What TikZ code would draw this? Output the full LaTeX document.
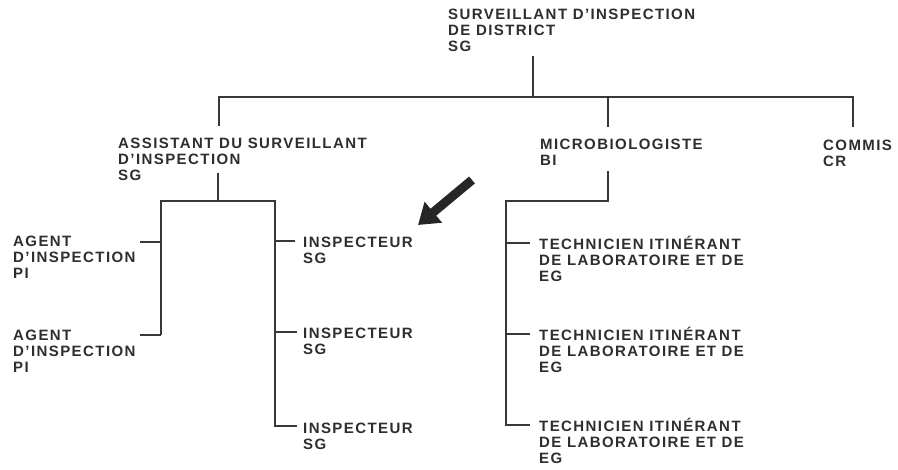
\documentclass[tikz,border=0pt]{standalone}
\usepackage{fontspec}
\setmainfont{Liberation Sans}[LetterSpace=9.5]
\usepackage{tikz}
\usetikzlibrary{calc,arrows.meta}

\tikzset{
	poste/.style={anchor=base west, inner sep=0pt, align=left, text=black!82,
		font=\fontsize{15}{16}\selectfont\bfseries},
	trait/.style={line width=1.8pt, draw=black!78},
	fleche/.style={line width=9pt, draw=black!85, -{Triangle[width=26pt,length=20pt]}}
}

\begin{document}
\begin{tikzpicture}[x=1pt,y=-1pt]
		\useasboundingbox[fill=white] (0,0) rectangle (898,470);
		% postes (placés sur la ligne de base de la dernière ligne)
		\node (titre) at (448,52)[poste]{SURVEILLANT D'INSPECTION\\DE DISTRICT\\SG};
		\node (adjoint) at (118,180.5)[poste]{ASSISTANT DU SURVEILLANT\\D'INSPECTION\\SG};
		\node (micro) at (540,165.5)[poste]{MICROBIOLOGISTE\\BI};
		\node (commis) at (823,166.5)[poste]{COMMIS\\CR};
		\node (agentA) at (13,279)[poste]{AGENT\\D'INSPECTION\\PI};
		\node (agentB) at (13,372.5)[poste]{AGENT\\D'INSPECTION\\PI};
		\node (inspA) at (303,263.5)[poste]{INSPECTEUR\\SG};
		\node (inspB) at (303,355)[poste]{INSPECTEUR\\SG};
		\node (inspC) at (303,449.5)[poste]{INSPECTEUR\\SG};
		\node (techA) at (539,281.5)[poste]{TECHNICIEN ITINÉRANT\\DE LABORATOIRE ET DE\\EG};
		\node (techB) at (539,373)[poste]{TECHNICIEN ITINÉRANT\\DE LABORATOIRE ET DE\\EG};
		\node (techC) at (539,464)[poste]{TECHNICIEN ITINÉRANT\\DE LABORATOIRE ET DE\\EG};
		% points de jonction
		\coordinate (hub) at (533,97);
		\coordinate (jAdjoint) at (219,97);
		\coordinate (jMicro) at (608,97);
		\coordinate (jCommis) at (853,97);
		\coordinate (busAdj) at (218,201);
		\coordinate (busG) at (161,201);
		\coordinate (busD) at (275,201);
		\coordinate (busMicro) at (608,201);
		\coordinate (busTech) at (506,201);
		% premier niveau
		\draw[trait] ($(titre.south -| hub)+(0,4)$) -- (hub);
		\draw[trait] ($(jAdjoint |- adjoint.north)+(0,-12)$) -- (jAdjoint) -- (jCommis) -- ($(jCommis |- commis.north)+(0,-13)$);
		\draw[trait] (jMicro) -- ($(jMicro |- micro.north)+(0,-12)$);
		% assistant
		\draw[trait] ($(adjoint.south -| busAdj)+(0,-8)$) -- (busAdj);
		\draw[trait] ($(agentB.base -| busG)+(0,-37.5)$) -- (busG) -- (busD) -- ($(inspC.base -| busD)+(0,-23.5)$) -- ($(inspC.base west)+(-6,-23.5)$);
		\draw[trait] ($(agentA.base east)+(4,-37)$) -- ($(agentA.base -| busG)+(0,-37)$);
		\draw[trait] ($(agentB.base east)+(4,-37.5)$) -- ($(agentB.base -| busG)+(0,-37.5)$);
		\draw[trait] ($(inspA.base -| busD)+(0,-22.5)$) -- ($(inspA.base west)+(-8,-22.5)$);
		\draw[trait] ($(inspB.base -| busD)+(0,-23)$) -- ($(inspB.base west)+(-6,-23)$);
		% microbiologiste
		\draw[trait] ($(micro.south -| busMicro)+(0,5.5)$) -- (busMicro) -- (busTech) -- ($(techC.base -| busTech)+(0,-39)$) -- ($(techC.base west)+(-9,-39)$);
		\draw[trait] ($(techA.base -| busTech)+(0,-38.5)$) -- ($(techA.base west)+(-9,-38.5)$);
		\draw[trait] ($(techB.base -| busTech)+(0,-39)$) -- ($(techB.base west)+(-9,-39)$);
		% fleche
		\coordinate (flecheA) at (472,180);
		\coordinate (flecheB) at (418,225);
		\draw[fleche] (flecheA) -- (flecheB);
\end{tikzpicture}
\end{document}
